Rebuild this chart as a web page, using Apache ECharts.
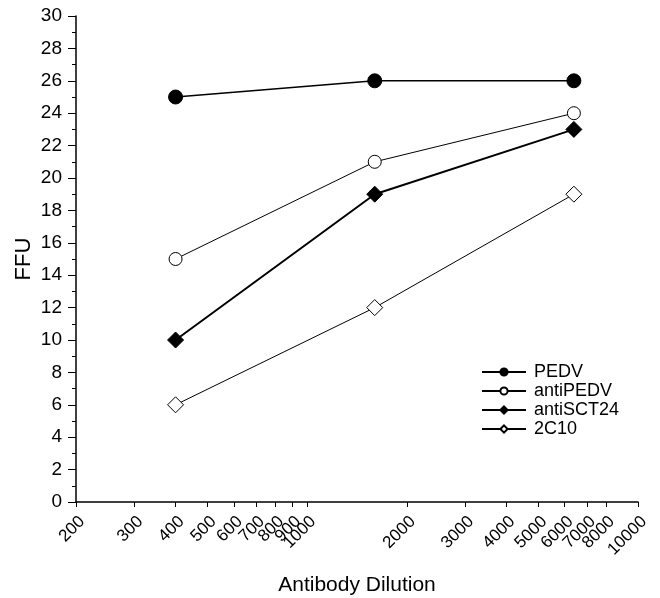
<!DOCTYPE html>
<html>
<head>
<meta charset="utf-8">
<script src="https://cdn.jsdelivr.net/npm/echarts@6/dist/echarts.min.js"></script>
<style>html,body{margin:0;padding:0;background:#fff}#c{width:660px;height:598px}</style>
</head>
<body>
<div id="c"></div>
<script>
const dilutions = [400, 1600, 6400];
const pedv = [25, 26, 26];
const antiPEDV = [15, 21, 24];
const antiSCT24 = [10, 19, 23];
const c2C10 = [6, 12, 19];
const xTicks = [200,300,400,500,600,700,800,900,1000,2000,3000,4000,5000,6000,7000,8000,9000,10000];

const pairs = v => dilutions.map((d,i)=>[d, v[i]]);
const font = 'Liberation Sans, Arial, sans-serif';
const chart = echarts.init(document.getElementById('c'), null, {renderer:'canvas'});
function ser(name, data, symbol, size, filled, lw){
  return {
    name, type:'line', data: pairs(data), symbol, symbolSize:size,
    showSymbol:true,
    lineStyle:{color:'#000', width:lw},
    itemStyle:{color: filled ? '#000' : '#fff', borderColor:'#000', borderWidth:1},
    emphasis:{disabled:true}, animation:false, z: filled?3:2
  };
}
chart.setOption({
  animation:false,
  grid:{left:76, right:22, top:16, bottom:96, containLabel:false, outerBoundsMode:'none'},
  legend:{
    orient:'vertical', left:476, top:358, itemWidth:44, itemHeight:9, itemGap:1,
    textStyle:{fontFamily:font, fontSize:18, color:'#000', padding:[0,0,0,3]},
    data:['PEDV','antiPEDV','antiSCT24','2C10']
  },
  xAxis:{
    type:'log', logBase:10, min:200, max:10000,
    name:'Antibody Dilution', nameLocation:'middle', nameGap:73, nameMoveOverlap:false,
    nameTextStyle:{fontFamily:font, fontSize:21, color:'#000'},
    axisLine:{show:true, onZero:false, lineStyle:{color:'#000', width:1.5}},
    axisTick:{show:true, length:5, lineStyle:{color:'#000', width:1}, customValues:xTicks},
    axisLabel:{rotate:45, verticalAlign:'top', fontFamily:font, fontSize:17, color:'#000', margin:11, customValues:xTicks,
      showMinLabel:true, showMaxLabel:true, hideOverlap:false, formatter: v => String(Math.round(v))},
    splitLine:{show:false}, minorTick:{show:false}
  },
  yAxis:{
    type:'value', min:0, max:30, interval:2,
    name:'FFU', nameLocation:'middle', nameGap:41, nameMoveOverlap:false,
    nameTextStyle:{fontFamily:font, fontSize:22, color:'#000'},
    axisLine:{show:true, lineStyle:{color:'#000', width:1.5}},
    axisTick:{show:true, length:8, lineStyle:{color:'#000', width:1}},
    minorTick:{show:true, splitNumber:2, length:4, lineStyle:{color:'#000', width:1}},
    axisLabel:{fontFamily:font, fontSize:19, color:'#000', margin:14},
    splitLine:{show:false}
  },
  series:[
    ser('PEDV', pedv, 'circle', 14, true, 1.5),
    ser('antiPEDV', antiPEDV, 'circle', 13, false, 1),
    ser('antiSCT24', antiSCT24, 'diamond', 16, true, 2),
    ser('2C10', c2C10, 'diamond', 16, false, 1)
  ]
});
</script>
</body>
</html>
